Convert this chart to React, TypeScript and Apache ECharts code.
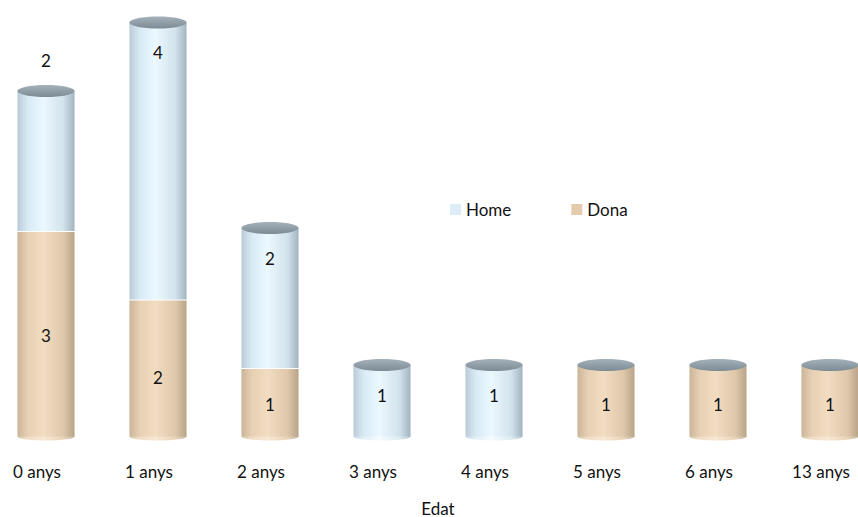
import React, { useEffect, useRef } from "react";
import * as echarts from "echarts";

const categories = ["0 anys", "1 anys", "2 anys", "3 anys", "4 anys", "5 anys", "6 anys", "13 anys"];
const dona = [3, 2, 1, 0, 0, 1, 1, 1];
const home = [2, 4, 2, 1, 1, 0, 0, 0];

const FONT = "Lato, 'DejaVu Sans', sans-serif";

const bodyGrad = (stops: string[]) =>
  new echarts.graphic.LinearGradient(0, 0, 1, 0, [
    { offset: 0, color: stops[0] },
    { offset: 0.18, color: stops[1] },
    { offset: 0.45, color: stops[2] },
    { offset: 0.8, color: stops[3] },
    { offset: 1, color: stops[4] },
  ]);

const donaStops = ["#cbb59a", "#e6cfb2", "#f2ddc2", "#dfc8ab", "#b9a389"];
const homeStops = ["#b9cbd6", "#d8eaf4", "#ebf8fe", "#d3e3ec", "#a2b4c0"];

function makeRender(kind: "dona" | "home") {
  return (params: any, api: any) => {
    const i = api.value(0);
    const base = api.value(1);
    const val = api.value(2);
    if (!val) return { type: "group", children: [] };
    const pb = api.coord([i, base]);
    const pt = api.coord([i, base + val]);
    const w = api.size([1, 0])[0] * 0.51;
    const rx = w / 2;
    const ry = 6;
    const cx = pb[0];
    const isTop = kind === "home" || home[i] === 0;
    const fill = bodyGrad(kind === "dona" ? donaStops : homeStops);
    const capY = pt[1] - 5;
    const children: any[] = [];
    if (base === 0) {
      children.push({
        type: "ellipse",
        shape: { cx, cy: pb[1] - 2, rx, ry: 4 },
        style: { fill: bodyGrad(kind === "dona" ? ["#d8c4aa", "#efdcc4", "#f7e8d4", "#e8d4bb", "#c9b59c"] : ["#c8d8e1", "#e3f1f8", "#f3fbff", "#dfebf2", "#b5c5cf"]) },
      });
    }
    const yTop = isTop ? capY : pt[1] - 1;
    children.push({
      type: "rect",
      shape: { x: cx - rx, y: yTop, width: w, height: pb[1] - 2 - yTop },
      style: { fill },
    });
    if (isTop) {
      children.push({
        type: "ellipse",
        shape: { cx, cy: capY, rx, ry },
        style: {
          fill: new echarts.graphic.LinearGradient(0, 0, 0, 1, [
            { offset: 0, color: "#a6b2ba" },
            { offset: 0.5, color: "#909ea8" },
            { offset: 1, color: "#7d8b95" },
          ]),
        },
      });
    }
    let ly: number;
    if (kind === "home") {
      ly = i === 0 ? pt[1] - 36 : pt[1] + 25;
    } else {
      ly = (pt[1] + pb[1]) / 2 + (val === 2 ? 7 : 0);
    }
    children.push({
      type: "text",
      style: {
        text: String(val),
        x: cx,
        y: ly,
        align: "center",
        verticalAlign: "middle",
        fill: "#111111",
        font: "17px " + FONT,
      },
    });
    return { type: "group", children };
  };
}

export default function App() {
  const ref = useRef<HTMLDivElement>(null);
  useEffect(() => {
    if (!ref.current) return;
    const chart = echarts.init(ref.current, undefined, { renderer: "svg" });
    const donaData = categories.map((_, i) => [i, 0, dona[i]]);
    const homeData = categories.map((_, i) => [i, dona[i], home[i]]);
    chart.setOption({
      animation: false,
      backgroundColor: "#ffffff",
      textStyle: { fontFamily: FONT },
      legend: {
        data: ["Home", "Dona"],
        left: 455,
        top: 196,
        icon: "rect",
        itemWidth: 11,
        itemHeight: 11,
        itemGap: 60,
        textStyle: { fontSize: 17, color: "#111111", fontFamily: FONT },
      },
      grid: { left: 0, right: 0, top: 27.5, bottom: 78.5, containLabel: false, outerBoundsMode: "none" },
      xAxis: {
        type: "category",
        data: categories,
        axisLine: { show: false },
        axisTick: { show: false },
        axisLabel: {
          margin: 24,
          fontSize: 17,
          color: "#111111",
          fontFamily: FONT,
          padding: [0, 18, 0, 0],
        },
        name: "Edat",
        nameLocation: "middle",
        nameGap: 61,
        nameTextStyle: { fontSize: 17, color: "#111111", fontFamily: FONT },
      },
      yAxis: { type: "value", min: 0, max: 6, show: false, splitLine: { show: false } },
      series: [
        {
          name: "Dona",
          type: "custom",
          itemStyle: { color: "#e4cbab" },
          renderItem: makeRender("dona"),
          encode: { x: 0, y: [1, 2] },
          data: donaData,
        },
        {
          name: "Home",
          type: "custom",
          itemStyle: { color: "#dcedf8" },
          renderItem: makeRender("home"),
          encode: { x: 0, y: [1, 2] },
          data: homeData,
        },
      ],
    });
    return () => chart.dispose();
  }, []);
  return (
    <div style={{ position: "absolute", left: 0, top: 0, width: 858, height: 517, overflow: "hidden" }}>
      <div ref={ref} style={{ width: 896, height: 517, position: "absolute", left: -10, top: 0 }} />
    </div>
  );
}
